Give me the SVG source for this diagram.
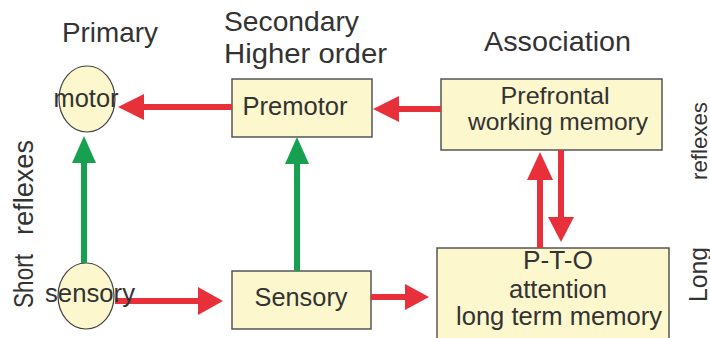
<svg xmlns="http://www.w3.org/2000/svg" width="710" height="338" viewBox="0 0 710 338">
<style>
text{font-family:"Liberation Sans",Arial,sans-serif;fill:#333}
.t{font-size:28px}
.n{font-size:25px;text-anchor:middle}
.n2{font-size:24px;text-anchor:middle}
.box{fill:#fcf7cd;stroke:#555;stroke-width:1.5}
.ell{fill:#fcf7cd;stroke:#444;stroke-width:1.2}
.r{stroke:#e8303a;stroke-width:6;fill:none}
.g{stroke:#16a04f;stroke-width:6;fill:none}
.rh{fill:#e8303a}
.gh{fill:#16a04f}
</style>
<rect width="710" height="338" fill="#fff"/>
<g id="labels">
<text class="t" x="62" y="42" textLength="96" lengthAdjust="spacingAndGlyphs">Primary</text>
<text class="t" x="224" y="31" textLength="135" lengthAdjust="spacingAndGlyphs">Secondary</text>
<text class="t" x="224" y="63" textLength="163" lengthAdjust="spacingAndGlyphs">Higher order</text>
<text class="t" x="484" y="51" textLength="147" lengthAdjust="spacingAndGlyphs">Association</text>
<text style="font-size:27px" transform="translate(33,308) rotate(-90)" textLength="54" lengthAdjust="spacingAndGlyphs">Short</text>
<text style="font-size:27px" transform="translate(33,235) rotate(-90)" textLength="95" lengthAdjust="spacingAndGlyphs">reflexes</text>
<text style="font-size:26px" transform="translate(707,302) rotate(-90)" textLength="55" lengthAdjust="spacingAndGlyphs">Long</text>
<text style="font-size:22px" transform="translate(707,180) rotate(-90)" textLength="78" lengthAdjust="spacingAndGlyphs">reflexes</text>
</g>
<g id="node-motor">
<ellipse class="ell" cx="87" cy="99" rx="28" ry="33"/>
<text class="n" x="86" y="107" textLength="65" lengthAdjust="spacingAndGlyphs">motor</text>
</g>
<g id="node-sensory">
<ellipse class="ell" cx="86" cy="296" rx="28" ry="33"/>
</g>
<g id="node-premotor">
<rect class="box" x="232" y="79" width="140" height="58"/>
<text class="n" x="295" y="115" textLength="105" lengthAdjust="spacingAndGlyphs">Premotor</text>
</g>
<g id="node-prefrontal">
<rect class="box" x="441" y="79" width="221" height="71"/>
<text class="n2" x="555" y="104" textLength="109" lengthAdjust="spacingAndGlyphs">Prefrontal</text>
<text class="n2" x="558" y="130" textLength="180" lengthAdjust="spacingAndGlyphs">working memory</text>
</g>
<g id="node-sensory-box">
<rect class="box" x="232" y="271" width="139" height="58"/>
<text class="n" x="301" y="306" textLength="93" lengthAdjust="spacingAndGlyphs">Sensory</text>
</g>
<g id="node-pto">
<rect class="box" x="437" y="248" width="232" height="100"/>
<text class="n" x="558" y="269" textLength="70" lengthAdjust="spacingAndGlyphs">P-T-O</text>
<text class="n" x="558" y="298" textLength="98" lengthAdjust="spacingAndGlyphs">attention</text>
<text class="n" x="559" y="325" textLength="206" lengthAdjust="spacingAndGlyphs">long term memory</text>
</g>
<g id="connectors">
<line class="r" x1="232" y1="107" x2="140" y2="107"/>
<polygon class="rh" points="118,107 144,94 144,120"/>
<line class="r" x1="441" y1="109" x2="395" y2="109"/>
<polygon class="rh" points="373,109 399,96 399,122"/>
<line class="g" x1="84" y1="263" x2="84" y2="160"/>
<polygon class="gh" points="84,136 96,163 72,163"/>
<line class="g" x1="297" y1="271" x2="297" y2="160"/>
<polygon class="gh" points="297,137 309,164 285,164"/>
<line class="r" x1="115" y1="301" x2="200" y2="301"/>
<polygon class="rh" points="223,301 198,287 198,315"/>
<line class="r" x1="371" y1="297" x2="407" y2="297"/>
<polygon class="rh" points="429,297 405,284 405,310"/>
<line class="r" x1="540" y1="248" x2="540" y2="178"/>
<polygon class="rh" points="540,152 553,180 527,180"/>
<line class="r" x1="561" y1="150" x2="561" y2="220"/>
<polygon class="rh" points="561,242 574,217 548,217"/>
</g>
<g id="sensory-label">
<text class="n" x="90" y="302" textLength="90" lengthAdjust="spacingAndGlyphs">sensory</text>
</g>
</svg>
